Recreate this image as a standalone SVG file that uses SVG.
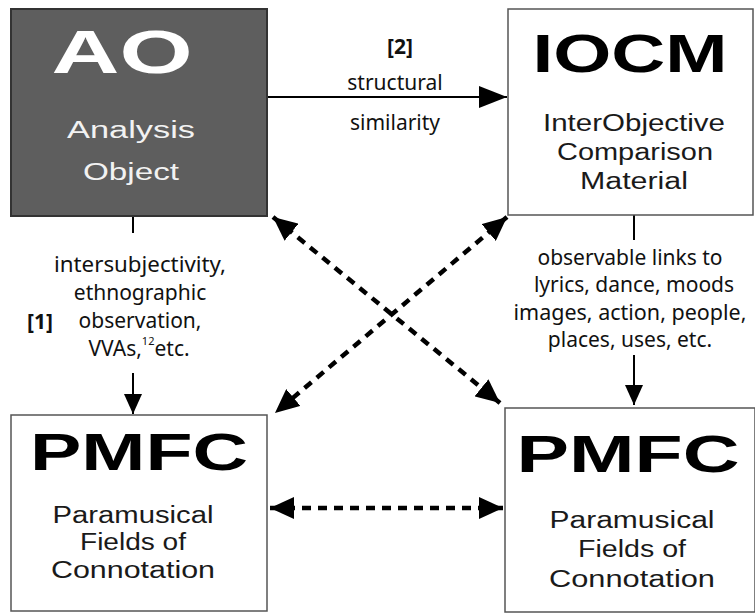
<svg xmlns="http://www.w3.org/2000/svg" width="755" height="613" viewBox="0 0 755 613">
<defs>
<style>
.box{fill:#fff;stroke:#555;stroke-width:1.5}
.title{font-family:"Liberation Sans",Arial,sans-serif;font-weight:bold;text-anchor:middle}
.sub{font-family:"Liberation Sans",Arial,sans-serif;text-anchor:middle;font-size:23px;fill:#1a1a1a}
.lbl{font-family:"Noto Sans","DejaVu Sans",sans-serif;font-size:21px;text-anchor:middle;fill:#111}
.solid{stroke:#000;stroke-width:2;fill:none}
.dash{stroke:#000;stroke-width:4.5;stroke-dasharray:9 7;fill:none}
</style>
<marker id="ah" markerUnits="userSpaceOnUse" markerWidth="30" markerHeight="22" refX="28" refY="11" orient="auto"><path d="M0,0 L28,11 L0,22 z" fill="#000"/></marker>
<marker id="av" markerUnits="userSpaceOnUse" markerWidth="22" markerHeight="18" refX="20" refY="9" orient="auto"><path d="M0,0 L20,9 L0,18 z" fill="#000"/></marker>
<marker id="ad" markerUnits="userSpaceOnUse" markerWidth="26" markerHeight="22" refX="24" refY="11" orient="auto-start-reverse"><path d="M0,0 L24,11 L0,22 z" fill="#000"/></marker>
</defs>
<rect width="755" height="613" fill="#fff"/>
<g id="connectors">
<line class="solid" x1="267" y1="97" x2="507" y2="97" marker-end="url(#ah)"/>
<line class="solid" x1="133" y1="216" x2="133" y2="233"/>
<line class="solid" x1="133" y1="373" x2="133" y2="414" marker-end="url(#av)"/>
<line class="solid" x1="634" y1="215" x2="634" y2="240"/>
<line class="solid" x1="634" y1="355" x2="634" y2="405" marker-end="url(#av)"/>
<line class="dash" x1="273" y1="217" x2="500" y2="403" marker-start="url(#ad)" marker-end="url(#ad)"/>
<line class="dash" x1="507" y1="217" x2="275" y2="413" marker-start="url(#ad)" marker-end="url(#ad)"/>
<line class="dash" x1="270" y1="508" x2="503" y2="508" marker-start="url(#ad)" marker-end="url(#ad)"/>
<text class="lbl" x="400" y="54" font-weight="bold">[2]</text>
<text class="lbl" x="395" y="90">structural</text>
<text class="lbl" x="395" y="130">similarity</text>
<text class="lbl" x="40" y="329" font-weight="bold">[1]</text>
<text class="lbl" x="140" y="272" textLength="172" lengthAdjust="spacingAndGlyphs">intersubjectivity,</text>
<text class="lbl" x="140" y="300">ethnographic</text>
<text class="lbl" x="140" y="328">observation,</text>
<text class="lbl" x="139" y="356">VVAs,<tspan font-size="11" dy="-11">12</tspan><tspan dy="11">etc.</tspan></text>
<text class="lbl" x="630" y="265">observable links to</text>
<text class="lbl" x="634" y="292">lyrics, dance, moods</text>
<text class="lbl" x="630" y="320" textLength="233" lengthAdjust="spacingAndGlyphs">images, action, people,</text>
<text class="lbl" x="630" y="347">places, uses, etc.</text>
</g>
<g id="ao">
<rect x="11" y="9" width="256" height="207" fill="#5e5e5e" stroke="#333" stroke-width="2"/>
<text class="title" x="122" y="73" font-size="62" fill="#fff" textLength="141" lengthAdjust="spacingAndGlyphs">AO</text>
<text class="sub" x="131" y="138" style="fill:#f2f2f2" textLength="128" lengthAdjust="spacingAndGlyphs">Analysis</text>
<text class="sub" x="131" y="180" style="fill:#f2f2f2" textLength="96" lengthAdjust="spacingAndGlyphs">Object</text>
</g>
<g id="iocm">
<rect class="box" x="508" y="9" width="245" height="206"/>
<text class="title" x="630" y="72" font-size="54" textLength="195" lengthAdjust="spacingAndGlyphs">IOCM</text>
<text class="sub" x="634" y="131" textLength="182" lengthAdjust="spacingAndGlyphs">InterObjective</text>
<text class="sub" x="635" y="160" textLength="156" lengthAdjust="spacingAndGlyphs">Comparison</text>
<text class="sub" x="634" y="189" textLength="108" lengthAdjust="spacingAndGlyphs">Material</text>
</g>
<g id="pmfc-left">
<rect class="box" x="11" y="415" width="256" height="196"/>
<text class="title" x="139" y="470" font-size="51" textLength="218" lengthAdjust="spacingAndGlyphs">PMFC</text>
<text class="sub" x="133" y="523" textLength="161" lengthAdjust="spacingAndGlyphs">Paramusical</text>
<text class="sub" x="133" y="550" textLength="106" lengthAdjust="spacingAndGlyphs">Fields of</text>
<text class="sub" x="133" y="578" textLength="164" lengthAdjust="spacingAndGlyphs">Connotation</text>
</g>
<g id="pmfc-right">
<rect class="box" x="505" y="408" width="250" height="204"/>
<text class="title" x="628" y="472" font-size="51" textLength="223" lengthAdjust="spacingAndGlyphs">PMFC</text>
<text class="sub" x="632" y="528" textLength="165" lengthAdjust="spacingAndGlyphs">Paramusical</text>
<text class="sub" x="632" y="557" textLength="108" lengthAdjust="spacingAndGlyphs">Fields of</text>
<text class="sub" x="632" y="587" textLength="166" lengthAdjust="spacingAndGlyphs">Connotation</text>
</g>
</svg>
